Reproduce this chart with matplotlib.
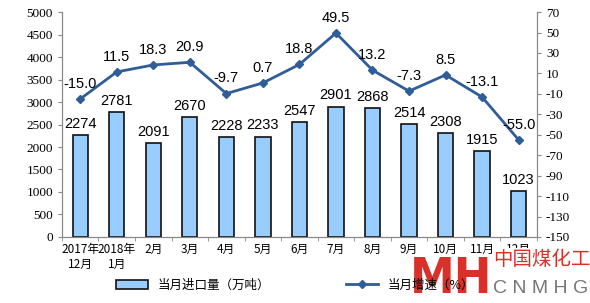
import numpy as np
import matplotlib
matplotlib.use("Agg")
import matplotlib.pyplot as plt

plt.rcParams['font.family'] = ['Liberation Sans', 'Noto Sans CJK SC', 'DejaVu Sans']

months = ['2017年\n12月', '2018年\n1月', '2月', '3月', '4月', '5月', '6月',
          '7月', '8月', '9月', '10月', '11月', '12月']
imports = [2274, 2781, 2091, 2670, 2228, 2233, 2547, 2901, 2868, 2514, 2308, 1915, 1023]
growth = [-15.0, 11.5, 18.3, 20.9, -9.7, 0.7, 18.8, 49.5, 13.2, -7.3, 8.5, -13.1, -55.0]
left_ticks = list(range(0, 5001, 500))
right_ticks = list(range(-150, 71, 20))

x = np.arange(len(months))
fig = plt.figure(figsize=(5.9, 3.03), dpi=100)
ax = fig.add_axes([0.105, 0.218, 0.805, 0.742])
ax2 = ax.twinx()

bars = ax.bar(x, imports, width=0.42, color='#99CCFF', edgecolor='#111111', linewidth=1.2,
              zorder=2)
for xi, v in zip(x, imports):
    ax.annotate(str(v), (xi, v), xytext=(0, 3), textcoords='offset points',
                ha='center', va='bottom', fontsize=10.5)

ln, = ax2.plot(x, growth, color='#2F5D98', linewidth=2, marker='D', markersize=4.5,
               zorder=3)
for xi, v in zip(x, growth):
    ax2.annotate('%.1f' % v, (xi, v), xytext=(0, 6), textcoords='offset points',
                 ha='center', va='bottom', fontsize=10.5)

ax.set_xlim(-0.5, len(months) - 0.5)
ax.set_ylim(0, 5000)
ax.set_yticks(left_ticks, [str(t) for t in left_ticks], fontfamily='Liberation Serif', fontsize=9.5)
ax2.set_ylim(-150, 70)
ax2.set_yticks(right_ticks, [str(t) for t in right_ticks], fontfamily='Liberation Serif', fontsize=9.5)

ax.set_xticks(x, months, fontsize=8.5, fontfamily=['Noto Sans CJK SC'])
ax.set_xticks(np.arange(-0.5, len(months), 1), minor=True)
ax.tick_params(axis='x', which='major', length=0, pad=4)
ax.tick_params(axis='x', which='minor', length=3, color='#888888')
for a in (ax, ax2):
    a.tick_params(axis='y', length=3, color='#888888')
    a.spines['top'].set_visible(False)
    for s in ('left', 'right', 'bottom'):
        a.spines[s].set_color('#888888')

fig.legend([bars, ln], ['当月进口量（万吨）', '当月增速（%）'], loc='lower center',
           bbox_to_anchor=(0.5, 0.0), ncol=2, frameon=False,
           columnspacing=6, handlelength=2.6,
           prop={'family': ['Noto Sans CJK SC'], 'size': 9})

# watermark
fig.text(0.695, 0.0, 'MH', color='#D9302A', fontsize=36, fontweight='bold',
         family=['DejaVu Sans'], fontstretch='condensed', va='bottom', ha='left',
         bbox=dict(facecolor='white', edgecolor='none', pad=0))
fig.text(0.835, 0.11, '中国煤化工', color='#D9302A', fontsize=14,
         family=['Noto Sans CJK SC'], va='bottom', ha='left',
         bbox=dict(facecolor='white', edgecolor='none', pad=0.5))
fig.text(0.835, 0.02, 'C N M H G', color='#777777', fontsize=14,
         va='bottom', ha='left')

fig.savefig('out.png', dpi=100)
